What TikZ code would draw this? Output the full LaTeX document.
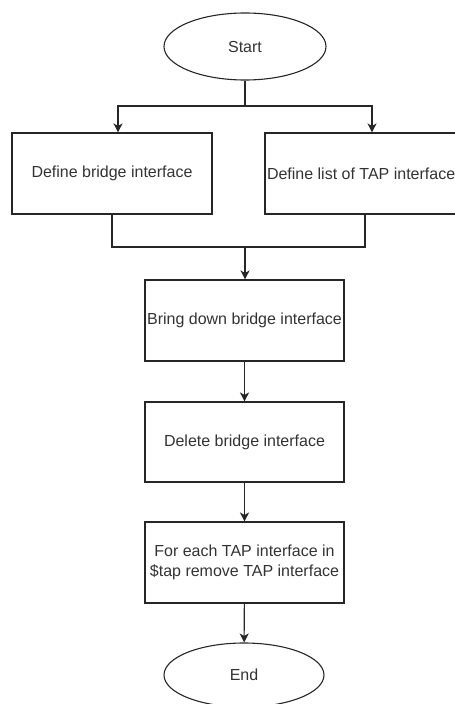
\documentclass[tikz,border=0pt]{standalone}
\usepackage{fontspec}
\setmainfont{Liberation Sans}
\usetikzlibrary{arrows.meta,shapes.geometric}
\begin{document}
\begin{tikzpicture}[x=1bp,y=-1bp,
  every node/.style={font=\fontsize{16bp}{20bp}\selectfont, text=black!80},
  stepbox/.style={draw=black!85, line width=1.1bp, rectangle, inner sep=0pt, align=center},
  terminal/.style={draw=black!85, line width=1.1bp, ellipse, inner sep=0pt},
  flow/.style={draw=black!85, line width=1.1bp, -{Stealth[length=9bp,width=9bp,inset=2.5bp]}},
  plain/.style={draw=black!85, line width=1.1bp}]
\useasboundingbox (0,0) rectangle (455,704);
\begin{scope}
\clip (0,0) rectangle (455,704);
% terminals
\node[terminal, minimum width=162bp, minimum height=67bp] (start) at (245,46.5) {Start};
\node[terminal, minimum width=160bp, minimum height=64bp] (end) at (244,675) {End};
% process boxes
\node[stepbox, minimum width=200bp, minimum height=81bp] (bridge) at (112,173.5) {Define bridge interface};
\node[stepbox, minimum width=200bp, minimum height=81bp] (tap) at (365,173.5) {\makebox[200bp][l]{\hspace*{2bp}Define list of TAP interfaces}};
\node[stepbox, minimum width=199bp, minimum height=81bp] (down) at (244.5,320.5) {Bring down bridge interface};
\node[stepbox, minimum width=199bp, minimum height=80bp] (delete) at (244.5,442) {Delete bridge interface};
\node[stepbox, minimum width=199bp, minimum height=81bp] (remove) at (244.5,562.5) {For each TAP interface in\\\$tap remove TAP interface};
% split and merge points
\coordinate (split) at (245,106);
\coordinate (merge) at (245,247);
% connectors
\draw[plain] (start.south) -- (split);
\draw[flow] (split) -| (bridge.north -| 118,0);
\draw[flow] (split) -| (tap.north -| 372,0);
\draw[plain] (bridge.south) |- (merge);
\draw[plain] (tap.south) |- (merge);
\draw[flow] (merge) -- (down.north -| merge);
\draw[flow] (down) -- (delete);
\draw[flow] (delete) -- (remove);
\draw[flow] (remove) -- (end);
\end{scope}
\end{tikzpicture}
\end{document}
